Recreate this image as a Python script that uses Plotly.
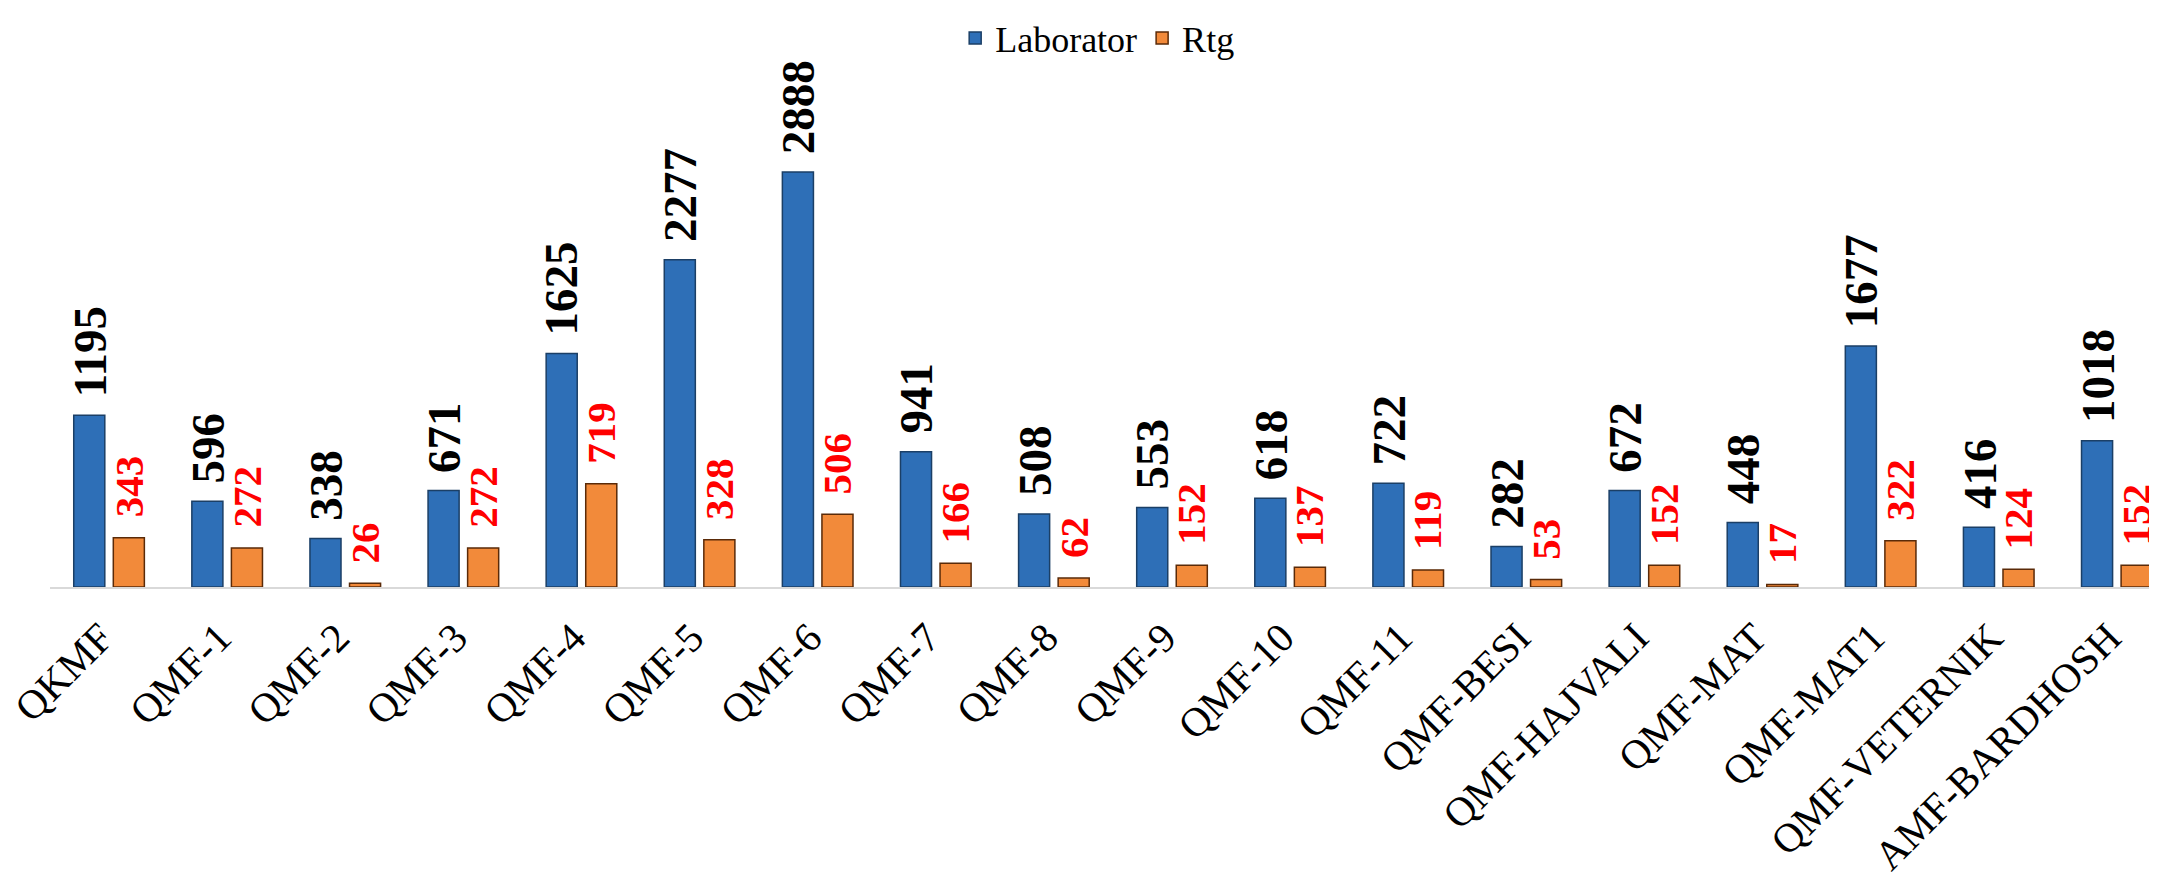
import plotly.graph_objects as go

categories = ["QKMF", "QMF-1", "QMF-2", "QMF-3", "QMF-4", "QMF-5", "QMF-6", "QMF-7",
              "QMF-8", "QMF-9", "QMF-10", "QMF-11", "QMF-BESI", "QMF-HAJVALI",
              "QMF-MAT", "QMF-MAT1", "QMF-VETERNIK", "AMF-BARDHOSH"]
laborator = [1195, 596, 338, 671, 1625, 2277, 2888, 941, 508, 553, 618, 722, 282, 672, 448, 1677, 416, 1018]
rtg = [343, 272, 26, 272, 719, 328, 506, 166, 62, 152, 137, 119, 53, 152, 17, 322, 124, 152]

FONT = "Liberation Serif"

fig = go.Figure()
fig.add_trace(go.Bar(
    name="Laborator", x=categories, y=laborator,
    marker=dict(color="#2E6FB7", line=dict(color="#1B3F66", width=1.5)),
))
fig.add_trace(go.Bar(
    name="Rtg", x=categories, y=rtg,
    marker=dict(color="#F28A3A", line=dict(color="#5A2A08", width=1.5)),
))

annotations = []
for c, v in zip(categories, laborator):
    annotations.append(dict(
        x=c, y=v, xref="x", yref="y", text=str(v), showarrow=False,
        textangle=-90, xanchor="center", yanchor="bottom", xshift=-19.5, yshift=16,
        font=dict(family=FONT, size=47, color="black", weight="bold"),
    ))
for c, v in zip(categories, rtg):
    annotations.append(dict(
        x=c, y=v, xref="x", yref="y", text=str(v), showarrow=False,
        textangle=-90, xanchor="center", yanchor="bottom", xshift=19.5, yshift=18,
        font=dict(family=FONT, size=41, color="#FF0000", weight="bold"),
    ))

fig.update_layout(
    width=2149, height=867,
    margin=dict(l=42, r=0, t=42, b=288, autoexpand=False),
    paper_bgcolor="white", plot_bgcolor="white",
    barmode="group", bargap=0.33, bargroupgap=0.215,
    font=dict(family=FONT, color="black"),
    showlegend=True,
    legend=dict(orientation="h", x=0.497, xanchor="center", y=1.078, yanchor="top",
                font=dict(family=FONT, size=36, color="black"), itemwidth=30,
                bgcolor="rgba(0,0,0,0)"),
    annotations=annotations,
)
fig.update_xaxes(
    range=[-0.5, 17.34], tickangle=-45, showline=True, linecolor="#D9D9D9", linewidth=2,
    showgrid=False, ticks="", tickfont=dict(family=FONT, size=41, color="black"),
    ticklabelstandoff=8, ticklabelshift=-8, automargin=False,
)
fig.update_yaxes(range=[0, 3737], visible=False, showgrid=False, zeroline=False, automargin=False)

fig.write_html("out.html")
